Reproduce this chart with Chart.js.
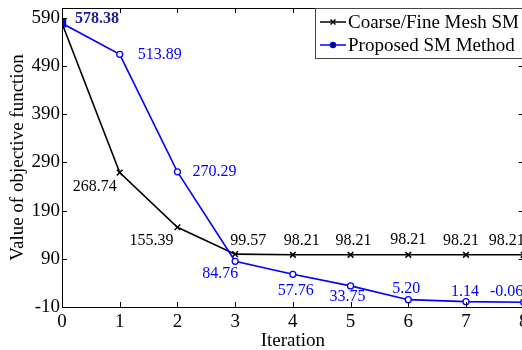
<!DOCTYPE html>
<html>
<head>
<meta charset="utf-8">
<script src="https://cdn.jsdelivr.net/npm/chart.js@4"></script>
<style>
  html, body { margin: 0; padding: 0; background: #fff; overflow: hidden; }
  #wrap { width: 530px; height: 350px; }
</style>
</head>
<body>
<div id="wrap"><canvas id="myChart" width="530" height="350"></canvas></div>
<script>
// values
const iterations = [0, 1, 2, 3, 4, 5, 6, 7, 8];
const coarseFine = [578.38, 268.74, 155.39, 99.57, 98.21, 98.21, 98.21, 98.21, 98.21];
const proposed = [578.38, 513.89, 270.29, 84.76, 57.76, 33.75, 5.20, 1.14, -0.06];
const yTicks = [-10, 90, 190, 290, 390, 490, 590];
const seriesNames = ['Coarse/Fine Mesh SM', 'Proposed SM Method'];

// where each value label sits relative to its point (px)
const coarseLabelOffsets = [null, [-25, 14], [-26, 14], [13, -13], [9, -14], [3, -14], [0, -15], [-5, -14], [-17, -14]];
const proposedLabelOffsets = [[35, -4], [40, 0], [37, 0], [-15, 12], [3, 16], [-3, 11], [-2, -11], [-1, -10], [-17, -10]];

const SERIF = '"Liberation Serif", "Times New Roman", serif';
const BLUE = '#0000ff';

const toXY = vals => vals.map((v, i) => ({x: iterations[i], y: v}));

// draws the numbers next to the points
const valueLabels = {
    id: 'valueLabels',
    afterDatasetsDraw(chart) {
        const ctx = chart.ctx;
        ctx.save();
        ctx.textAlign = 'center';
        ctx.textBaseline = 'middle';
        chart.data.datasets.forEach((ds, di) => {
            const meta = chart.getDatasetMeta(di);
            const offs = ds.labelOffsets;
            meta.data.forEach((pt, i) => {
                if (!offs[i]) return;
                const bold = ds.boldFirst && i === 0;
                ctx.font = (bold ? 'bold ' : '') + '16px ' + SERIF;
                ctx.fillStyle = bold ? '#1a1a99' : ds.labelColor;
                ctx.fillText(ds.data[i].y.toFixed(2), pt.x + offs[i][0], pt.y + offs[i][1]);
            });
        });
        ctx.restore();
    }
};

// matlab style box with inward ticks + legend inside the box
const frame = {
    id: 'frame',
    afterDraw(chart) {
        const {ctx, chartArea: a, scales} = chart;
        ctx.save();
        ctx.strokeStyle = '#000';
        ctx.lineWidth = 1;
        ctx.strokeRect(a.left + 0.5, a.top + 0.5, a.right - a.left, a.bottom - a.top);
        const tl = 5;
        ctx.beginPath();
        scales.x.ticks.forEach(t => {
            const px = Math.round(scales.x.getPixelForValue(t.value)) + 0.5;
            ctx.moveTo(px, a.bottom); ctx.lineTo(px, a.bottom - tl);
            ctx.moveTo(px, a.top); ctx.lineTo(px, a.top + tl);
        });
        scales.y.ticks.forEach(t => {
            const py = Math.round(scales.y.getPixelForValue(t.value)) + 0.5;
            ctx.moveTo(a.left, py); ctx.lineTo(a.left + tl, py);
            ctx.moveTo(a.right, py); ctx.lineTo(a.right - tl, py);
        });
        ctx.stroke();

        // legend
        const lx = 315, ly = 8, lw = 220, lh = 50;
        ctx.fillStyle = '#fff';
        ctx.fillRect(lx, ly, lw, lh);
        ctx.strokeStyle = '#444';
        ctx.strokeRect(lx + 0.5, ly + 0.5, lw, lh);
        const rows = [22, 45];
        const order = [1, 0];
        order.forEach((di, r) => {
            const ds = chart.data.datasets[di];
            const y = rows[r];
            ctx.strokeStyle = ds.borderColor;
            ctx.lineWidth = 1.5;
            ctx.beginPath();
            ctx.moveTo(320, y); ctx.lineTo(346, y);
            ctx.stroke();
            Chart.helpers.drawPoint(ctx, {
                pointStyle: ds.legendMarker,
                radius: ds.legendMarker === 'circle' ? 2.5 : 3.5,
                borderWidth: 1.5
            }, 333, y);
            ctx.fillStyle = '#000';
            ctx.font = '19px ' + SERIF;
            ctx.textAlign = 'left';
            ctx.textBaseline = 'middle';
            ctx.fillText(ds.label, 348, y + 1);
        });
        ctx.restore();
    }
};

const ptStyles = proposed.map((v, i) => i === 0 ? 'rect' : 'circle');
const ptFill = proposed.map((v, i) => i === 0 ? BLUE : '#fff');
const ptRad = proposed.map((v, i) => i === 0 ? 5 : 3);

new Chart(document.getElementById('myChart'), {
    type: 'line',
    data: {
        datasets: [{
            label: seriesNames[1],
            data: toXY(proposed),
            borderColor: BLUE,
            borderWidth: 1.6,
            pointStyle: ptStyles,
            pointRadius: ptRad,
            pointBackgroundColor: ptFill,
            pointBorderColor: BLUE,
            pointBorderWidth: 1.3,
            legendMarker: 'circle',
            labelOffsets: proposedLabelOffsets,
            labelColor: BLUE,
            boldFirst: true
        }, {
            label: seriesNames[0],
            data: toXY(coarseFine),
            borderColor: '#000',
            borderWidth: 1.6,
            pointStyle: 'crossRot',
            pointRadius: 4,
            pointBorderColor: '#000',
            pointBorderWidth: 1.5,
            legendMarker: 'crossRot',
            labelOffsets: coarseLabelOffsets,
            labelColor: '#000'
        }]
    },
    options: {
        responsive: false,
        animation: false,
        events: [],
        layout: {padding: {top: 8, right: 6, bottom: 0, left: 0}},
        plugins: {legend: {display: false}, tooltip: {enabled: false}},
        elements: {line: {tension: 0}},
        scales: {
            x: {
                type: 'linear',
                min: 0,
                max: 8,
                grid: {display: false, drawTicks: false},
                border: {display: false},
                ticks: {stepSize: 1, color: '#000', font: {family: SERIF, size: 19}, padding: 4, maxRotation: 0},
                title: {display: true, text: 'Iteration', color: '#000', font: {family: SERIF, size: 19}, padding: {top: 0, bottom: -2}},
                afterFit(scale) {
                    scale.height = 43;
                    scale.paddingLeft = 0;
                    scale.paddingRight = 0;
                }
            },
            y: {
                min: -10,
                max: 610,
                grid: {display: false, drawTicks: false},
                border: {display: false},
                afterBuildTicks(scale) {
                    scale.ticks = yTicks.map(v => ({value: v}));
                },
                ticks: {color: '#000', font: {family: SERIF, size: 19}, padding: 2},
                title: {display: true, text: 'Value of objective function', color: '#000', font: {family: SERIF, size: 19}, padding: {top: 7, bottom: 0}},
                afterFit(scale) {
                    scale.width = 62;
                    scale.paddingTop = 0;
                    scale.paddingBottom = 0;
                }
            }
        }
    },
    plugins: [valueLabels, frame]
});
</script>
</body>
</html>
